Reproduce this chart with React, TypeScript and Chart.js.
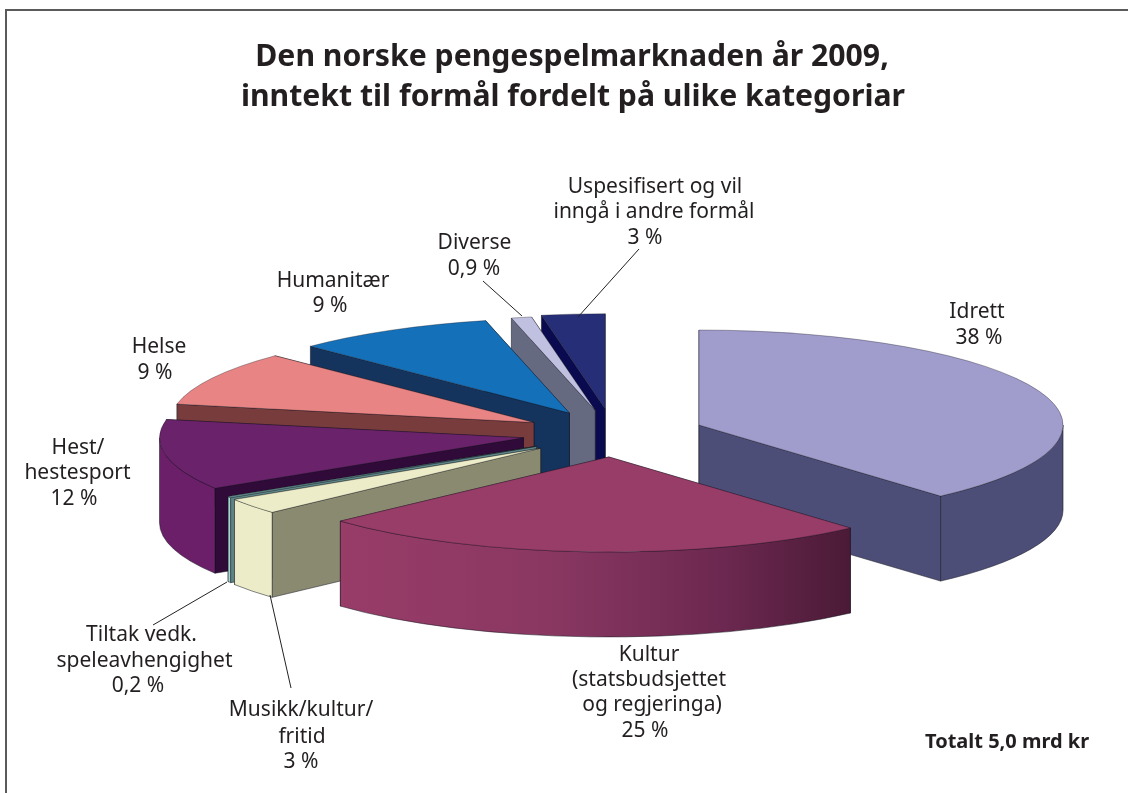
import React, { useEffect, useRef } from "react";
import { Chart, registerables } from "chart.js";

Chart.register(...registerables);

// ---- data ----
const categories = [
  "Idrett",
  "Kultur (statsbudsjettet og regjeringa)",
  "Musikk/kultur/fritid",
  "Tiltak vedk. speleavhengighet",
  "Hest/hestesport",
  "Helse",
  "Humanitær",
  "Diverse",
  "Uspesifisert og vil inngå i andre formål",
];
const shares = [38.45, 24.75, 2.7, 0.2, 12.0, 9.3, 8.9, 0.9, 2.8];

const titleLines = [
  "Den norske pengespelmarknaden år 2009,",
  "inntekt til formål fordelt på ulike kategoriar",
];
const totalText = "Totalt 5,0 mrd kr";

// ---- styling ----
const topColors = ["#a09ccc", "#983c68", "#ecedc8", "#6f9c9c", "#6a226a", "#e88484", "#1470b8", "#c0c0e0", "#262e78"];
const radialWallColors = ["#4c4e78", "#983c68", "#8a8a70", "#5c8484", "#300a38", "#783c3c", "#14345e", "#666a80", "#0a0a50"];
const outerWallColors = ["#4c4e78", "#983c68", "#ecedc8", "#a8d4d4", "#6b1f68", "#783c3c", "#14345e", "#666a80", "#0a0a50"];
const explode = [91.5, 90, 92, 91, 91.5, 90, 90, 90, 95];
const paintOrder = [8, 7, 6, 5, 4, 3, 2, 0, 1];
const RADIUS = 364;
const SQUASH = 95 / 364;
const DEPTH = 85;
const CENTER_X = 613.5;
const CENTER_Y = 433.5;
const FONT = '"Noto Sans"';
const EDGE = "rgba(20,20,30,0.65)";

type TextItem = { text: string; x: number; y: number };
const labelTexts: TextItem[] = [
  { text: "Uspesifisert og vil", x: 655, y: 193 },
  { text: "inngå i andre formål", x: 654, y: 218 },
  { text: "3 %", x: 645, y: 244 },
  { text: "Diverse", x: 474.5, y: 249 },
  { text: "0,9 %", x: 474, y: 275 },
  { text: "Humanitær", x: 333, y: 287 },
  { text: "9 %", x: 330, y: 312 },
  { text: "Helse", x: 159, y: 353 },
  { text: "9 %", x: 155, y: 379 },
  { text: "Hest/", x: 78, y: 454 },
  { text: "hestesport", x: 77.5, y: 479 },
  { text: "12 %", x: 74, y: 505 },
  { text: "Idrett", x: 977, y: 318 },
  { text: "38 %", x: 979, y: 344 },
  { text: "Kultur", x: 649, y: 661 },
  { text: "(statsbudsjettet", x: 649, y: 686 },
  { text: "og regjeringa)", x: 652, y: 711 },
  { text: "25 %", x: 645, y: 737 },
  { text: "Musikk/kultur/", x: 301, y: 716 },
  { text: "fritid", x: 302, y: 743 },
  { text: "3 %", x: 301, y: 768 },
  { text: "Tiltak vedk.", x: 141.5, y: 641 },
  { text: "speleavhengighet", x: 144.5, y: 667 },
  { text: "0,2 %", x: 138, y: 692 },
];
const leaderLines = [
  [483, 281, 522, 316],
  [639, 249, 578, 317],
  [227, 582, 153, 625],
  [270, 595, 291, 688],
];

const pie3d = {
  id: "pie3d",
  beforeDatasetsDraw(chart: any) {
    const ctx = chart.ctx as CanvasRenderingContext2D;
    const arcs = chart.getDatasetMeta(0).data;
    for (const i of paintOrder) {
      const arc = arcs[i];
      const { x, y, startAngle, endAngle, outerRadius } = arc.getProps(["x", "y", "startAngle", "endAngle", "outerRadius"], true);
      const mid = (startAngle + endAngle) / 2;
      const ox = Math.cos(mid) * explode[i];
      const oy = Math.sin(mid) * explode[i];
      const ax = CENTER_X + ox;
      const ay = CENTER_Y + oy * SQUASH;
      const rx = outerRadius;
      const ry = outerRadius * SQUASH;

      // radial walls, the one further back first
      ctx.save();
      ctx.lineWidth = 0.8;
      ctx.strokeStyle = EDGE;
      const edges = [startAngle, endAngle].sort((a, b) => Math.sin(a) - Math.sin(b));
      for (const t of edges) {
        const px = ax + Math.cos(t) * rx;
        const py = ay + Math.sin(t) * ry;
        ctx.beginPath();
        ctx.moveTo(ax, ay);
        ctx.lineTo(px, py);
        ctx.lineTo(px, py + DEPTH);
        ctx.lineTo(ax, ay + DEPTH);
        ctx.closePath();
        ctx.fillStyle = radialWallColors[i];
        ctx.fill();
        ctx.stroke();
      }
      // outer wall, only the part that faces the viewer
      const lo = Math.max(startAngle, 0);
      const hi = Math.min(endAngle, Math.PI);
      if (hi > lo) {
        ctx.beginPath();
        ctx.ellipse(ax, ay, rx, ry, 0, lo, hi);
        ctx.ellipse(ax, ay + DEPTH, rx, ry, 0, hi, lo, true);
        ctx.closePath();
        if (i === 1) {
          const g = ctx.createLinearGradient(ax - rx * 0.74, 0, ax + rx * 0.67, 0);
          g.addColorStop(0, "#983c68");
          g.addColorStop(0.4, "#8a3862");
          g.addColorStop(0.75, "#6c2850");
          g.addColorStop(1, "#4a1a36");
          ctx.fillStyle = g;
        } else {
          ctx.fillStyle = outerWallColors[i];
        }
        ctx.fill();
        ctx.stroke();
      }
      ctx.restore();

      // top face: the library's own arc, seen through the tilt
      ctx.save();
      ctx.translate(ax, ay);
      ctx.scale(1, SQUASH);
      ctx.translate(-x, -y);
      arc.draw(ctx);
      ctx.restore();
    }
    return false;
  },
  afterDraw(chart: any) {
    const ctx = chart.ctx as CanvasRenderingContext2D;
    ctx.save();
    // frame, open towards the right and the bottom of the page
    ctx.strokeStyle = "#5a5a5a";
    ctx.lineWidth = 2;
    ctx.beginPath();
    ctx.moveTo(6, 793);
    ctx.lineTo(6, 10);
    ctx.lineTo(1128, 10);
    ctx.stroke();

    ctx.strokeStyle = "#222";
    ctx.lineWidth = 1;
    for (const [x1, y1, x2, y2] of leaderLines) {
      ctx.beginPath();
      ctx.moveTo(x1, y1);
      ctx.lineTo(x2, y2);
      ctx.stroke();
    }

    ctx.textAlign = "center";
    ctx.textBaseline = "alphabetic";
    ctx.fillStyle = "#231f20";
    ctx.font = `bold 30.2px ${FONT}`;
    ctx.fillText(titleLines[0], 572, 66);
    ctx.fillText(titleLines[1], 573, 106);

    ctx.font = `21px ${FONT}`;
    for (const l of labelTexts) ctx.fillText(l.text, l.x, l.y);

    ctx.textAlign = "left";
    ctx.font = `bold 20px ${FONT}`;
    ctx.fillText(totalText, 925, 748);
    ctx.restore();
  },
};

export default function App() {
  const ref = useRef<HTMLCanvasElement | null>(null);
  useEffect(() => {
    document.body.style.margin = "0";
    document.body.style.background = "#fff";
    const chart = new Chart(ref.current!, {
      type: "pie",
      data: {
        labels: categories,
        datasets: [
          {
            data: shares,
            backgroundColor: topColors,
            borderColor: EDGE,
            borderWidth: 0.8,
            radius: RADIUS,
            clip: false,
          } as any,
        ],
      },
      options: {
        responsive: false,
        animation: false,
        events: [],
        layout: { padding: 0 },
        plugins: { legend: { display: false }, tooltip: { enabled: false }, title: { display: false } },
      },
      plugins: [pie3d],
    } as any);
    return () => chart.destroy();
  }, []);
  return (
    <div style={{ position: "absolute", left: 0, top: 0, width: 1128, height: 793, overflow: "hidden", background: "#fff" }}>
      <canvas ref={ref} width={1128} height={793} style={{ display: "block" }} />
    </div>
  );
}
